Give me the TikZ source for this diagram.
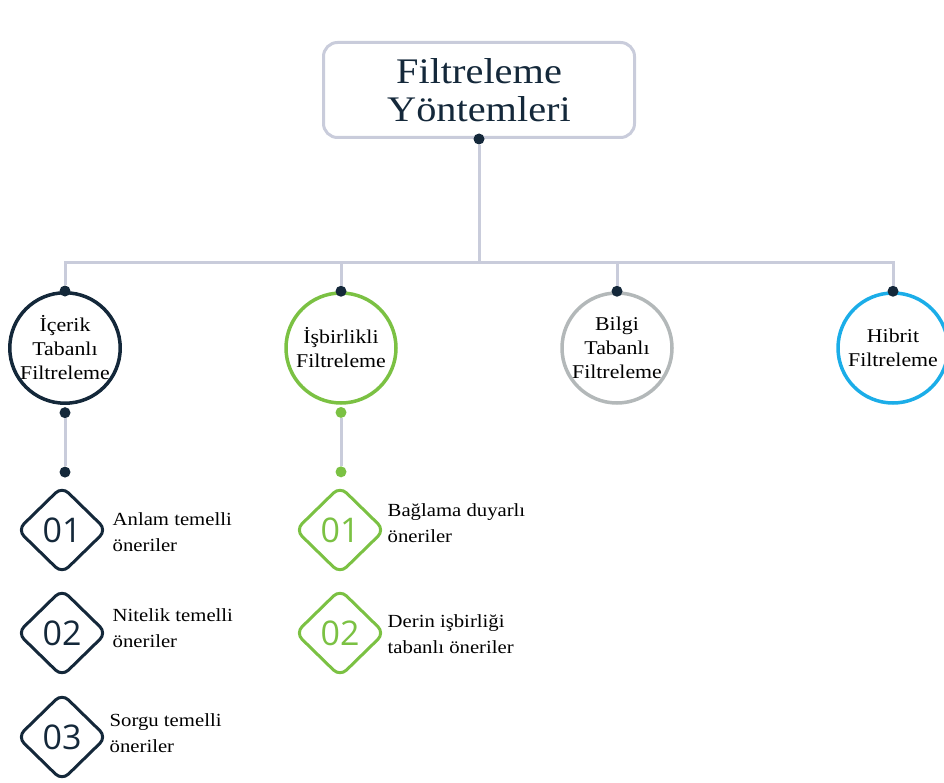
\documentclass[tikz,border=0pt]{standalone}
\usepackage{fontspec}
\setmainfont{Liberation Serif}[FakeStretch=1.12]
\newfontfamily\numfont{Open Sans}
\usetikzlibrary{shapes.geometric,positioning}
\definecolor{navy}{HTML}{14283A}
\definecolor{leaf}{HTML}{7BC143}
\definecolor{stone}{HTML}{B3B8B9}
\definecolor{sky}{HTML}{1BADE8}
\definecolor{linegray}{HTML}{C9CCDB}
\begin{document}
\begin{tikzpicture}[x=1pt, y=-1pt,
    conn/.style={draw=linegray, line width=3pt},
    dot/.style={circle, fill=#1, inner sep=0pt, minimum size=11pt},
    kind/.style={circle, draw=#1, line width=3.5pt, minimum size=110pt, inner sep=0pt, align=center, font=\fontsize{19.5}{24}\selectfont, text=black},
    num/.style={diamond, draw=#1, rounded corners=9pt, line width=3pt, minimum width=90pt, minimum height=88pt, inner sep=0pt, text=#1, font=\numfont\fontsize{34}{34}\selectfont},
    item/.style={anchor=west, align=left, inner sep=0pt, font=\fontsize{18.5}{26}\selectfont, text=black}]
    \useasboundingbox (0,0) rectangle (944,783);
    % title
    \node[draw=linegray, line width=3pt, rounded corners=14pt, minimum width=311pt, minimum height=95pt,
          align=center, text=navy, font=\fontsize{36}{38}\selectfont] (title) at (479,90) {Filtreleme\\Yöntemleri};
    \node[dot=navy] (tdot) at (title.south) {};
    \coordinate (bus) at (479,263);
    % four kinds
    \node[kind=navy] (icerik) at (65,348) {İçerik\\Tabanlı\\Filtreleme};
    \node[kind=leaf] (isbir) at (341,348) {İşbirlikli\\Filtreleme};
    \node[kind=stone] (bilgi) at (617,348) {Bilgi\\Tabanlı\\Filtreleme};
    \node[kind=sky] (hibrit) at (893,348) {Hibrit\\Filtreleme};
    \foreach \k in {icerik,isbir,bilgi,hibrit}
        \node[dot=navy] (\k top) at (\k.north) {};
    \draw[conn] (tdot) -- (bus);
    \foreach \k in {icerik,isbir,bilgi,hibrit}
        \draw[conn] (bus) -| (\k top);
    % drop lines
    \node[dot=navy, below=2pt of icerik] (icdot1) {};
    \node[dot=navy, below=48pt of icdot1] (icdot2) {};
    \node[dot=leaf, below=2pt of isbir] (isdot1) {};
    \node[dot=leaf, below=48pt of isdot1] (isdot2) {};
    \draw[conn] (icdot1) -- (icdot2);
    \draw[conn] (isdot1) -- (isdot2);
    % content based items
    \node[num=navy] (ic1) at (62,530) {01};
    \node[num=navy] (ic2) at (62,633) {02};
    \node[num=navy] (ic3) at (62,737) {03};
    \node[item] at ([xshift=4pt,yshift=-2pt]ic1.east) {Anlam temelli\\öneriler};
    \node[item] at ([xshift=4pt,yshift=5pt]ic2.east) {Nitelik temelli\\öneriler};
    \node[item] at ([xshift=1pt,yshift=4pt]ic3.east) {Sorgu temelli\\öneriler};
    % collaborative items
    \node[num=leaf] (is1) at (340,530) {01};
    \node[num=leaf] (is2) at (340,633) {02};
    \node[item] at ([xshift=1pt,yshift=7pt]is1.east) {Bağlama duyarlı\\öneriler};
    \node[item] at ([xshift=1pt,yshift=-1pt]is2.east) {Derin işbirliği\\tabanlı öneriler};
\end{tikzpicture}
\end{document}
